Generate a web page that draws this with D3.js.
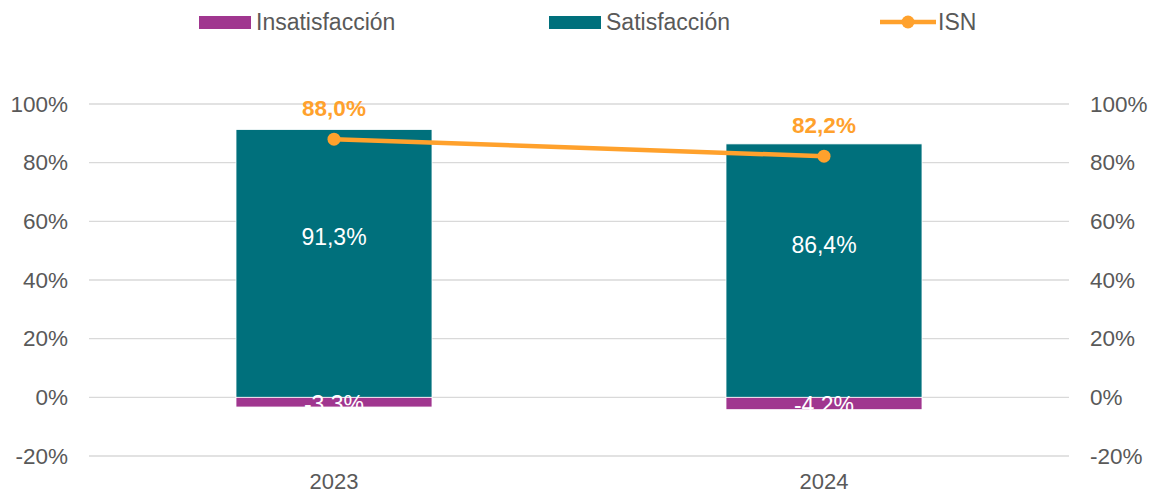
<!DOCTYPE html>
<html>
<head>
<meta charset="utf-8">
<script src="https://cdn.jsdelivr.net/npm/d3@7"></script>
<style>
  html, body { margin: 0; padding: 0; background: #fff; }
  svg { display: block; font-family: "Liberation Sans", Arial, sans-serif; }
</style>
</head>
<body>
<svg id="chart" width="1151" height="494"></svg>
<script>
// Survey results by year
const years = ["2023", "2024"];
const satisfaccion = [91.3, 86.4];
const insatisfaccion = [-3.3, -4.2];
const isn = [88.0, 82.2];
const yTicks = [-20, 0, 20, 40, 60, 80, 100];

const colors = { sat: "#00707C", insat: "#A0368F", isn: "#FFA12C", text: "#595959", grid: "#D9D9D9" };

const svg = d3.select("#chart");
const fmt = v => v.toFixed(1).replace(".", ",") + "%";

const x = d3.scaleBand().domain(years).range([89, 1069]).paddingInner(0.6).paddingOuter(0.3);
const y = d3.scaleLinear().domain([-20, 100]).range([456, 104]);

// Gridlines
svg.append("g").selectAll("line").data(yTicks).join("line")
  .attr("x1", 89).attr("x2", 1069)
  .attr("y1", d => y(d)).attr("y2", d => y(d))
  .attr("stroke", colors.grid).attr("stroke-width", 1.3);

// Left and right axes
const leftAxis = d3.axisLeft(y).tickValues(yTicks).tickFormat(d => d + "%").tickSize(0).tickPadding(0);
const gl = svg.append("g").attr("transform", "translate(68,0)").call(leftAxis);
const rightAxis = d3.axisRight(y).tickValues(yTicks).tickFormat(d => d + "%").tickSize(0).tickPadding(0);
const gr = svg.append("g").attr("transform", "translate(1090,0)").call(rightAxis);
[gl, gr].forEach(g => {
  g.select(".domain").remove();
  g.selectAll("text").attr("fill", colors.text).style("font-size", "22.5px")
    .style("font-family", "'Liberation Sans', Arial, sans-serif");
});

// Category axis
const bottomAxis = d3.axisBottom(x).tickSize(0).tickPadding(0);
const gb = svg.append("g").attr("transform", "translate(0,473)").call(bottomAxis);
gb.select(".domain").remove();
gb.selectAll("text").attr("fill", colors.text).style("font-size", "22px")
  .style("font-family", "'Liberation Sans', Arial, sans-serif");

// Stacked bars
const bars = svg.append("g");
bars.selectAll("rect.sat").data(years).join("rect").attr("class", "sat")
  .attr("x", d => x(d)).attr("width", x.bandwidth())
  .attr("y", (d, i) => y(satisfaccion[i])).attr("height", (d, i) => y(0) - y(satisfaccion[i]))
  .attr("fill", colors.sat).attr("stroke", "#fff").attr("stroke-width", 0.8);
bars.selectAll("rect.insat").data(years).join("rect").attr("class", "insat")
  .attr("x", d => x(d)).attr("width", x.bandwidth())
  .attr("y", y(0)).attr("height", (d, i) => y(insatisfaccion[i]) - y(0))
  .attr("fill", colors.insat).attr("stroke", "#fff").attr("stroke-width", 0.8);

// Bar value labels
bars.selectAll("text.satl").data(years).join("text")
  .attr("x", d => x(d) + x.bandwidth() / 2)
  .attr("y", (d, i) => y(satisfaccion[i] / 2) - 26)
  .attr("text-anchor", "middle").attr("dominant-baseline", "central")
  .attr("fill", "#fff").style("font-size", "23px")
  .text((d, i) => fmt(satisfaccion[i]));
bars.selectAll("text.insl").data(years).join("text")
  .attr("x", d => x(d) + x.bandwidth() / 2)
  .attr("y", (d, i) => y(insatisfaccion[i] / 2) + 2)
  .attr("text-anchor", "middle").attr("dominant-baseline", "central")
  .attr("fill", "#fff").style("font-size", "23px")
  .text((d, i) => fmt(insatisfaccion[i]));

// ISN line with markers
const cx = d => x(d) + x.bandwidth() / 2;
const line = d3.line().x(d => cx(d.year)).y(d => y(d.v));
const isnData = years.map((year, i) => ({ year, v: isn[i] }));
svg.append("path").datum(isnData).attr("d", line)
  .attr("fill", "none").attr("stroke", colors.isn).attr("stroke-width", 4.5);
svg.append("g").selectAll("circle").data(isnData).join("circle")
  .attr("cx", d => cx(d.year)).attr("cy", d => y(d.v)).attr("r", 6.5)
  .attr("fill", colors.isn);
svg.append("g").selectAll("text").data(isnData).join("text")
  .attr("x", d => cx(d.year)).attr("y", d => y(d.v) - 31)
  .attr("text-anchor", "middle").attr("dominant-baseline", "central")
  .attr("fill", colors.isn).style("font-size", "22.5px").style("font-weight", "bold")
  .text(d => fmt(d.v));

// Legend
const legend = svg.append("g");
const items = [
  { label: "Insatisfacción", type: "rect", color: colors.insat, x: 199 },
  { label: "Satisfacción", type: "rect", color: colors.sat, x: 549 },
  { label: "ISN", type: "line", color: colors.isn, x: 880 }
];
items.forEach(it => {
  const g = legend.append("g");
  if (it.type === "rect") {
    g.append("rect").attr("x", it.x).attr("y", 16).attr("width", 52).attr("height", 13).attr("fill", it.color);
  } else {
    g.append("line").attr("x1", it.x).attr("x2", it.x + 56).attr("y1", 22).attr("y2", 22)
      .attr("stroke", it.color).attr("stroke-width", 4.5);
    g.append("circle").attr("cx", it.x + 28).attr("cy", 22).attr("r", 6.5).attr("fill", it.color);
  }
  g.append("text").attr("x", it.x + (it.type === "rect" ? 57 : 58)).attr("y", 22)
    .attr("dominant-baseline", "central").attr("fill", colors.text).style("font-size", "23px")
    .text(it.label);
});
</script>
</body>
</html>
